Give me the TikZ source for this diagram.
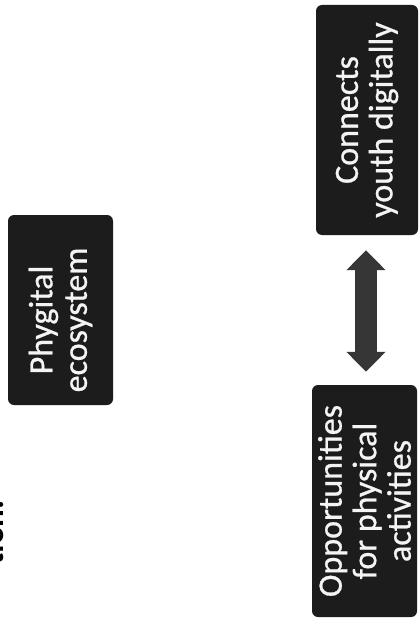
\documentclass[tikz,border=0pt]{standalone}
\usepackage{fontspec}
\setmainfont{Carlito}
\newfontfamily\cardfont[FakeBold=0.8]{Carlito}
\usetikzlibrary{arrows.meta}
\definecolor{boxfill}{HTML}{1C1C1C}
\definecolor{boxtext}{HTML}{F4F4F4}
\definecolor{arrfill}{HTML}{363636}
\begin{document}
\begin{tikzpicture}[x=1pt,y=-1pt,
  card/.style={rotate=90, fill=boxfill, text=boxtext, rounded corners=6pt,
    inner sep=0pt, align=center, font=\cardfont\fontsize{34}{34.5}\selectfont},
  fatarrow/.style={draw=arrfill, line width=22pt,
    {Triangle[length=20pt,width=38pt]}-{Triangle[length=20pt,width=38pt]}},
  heading/.style={rotate=90, inner sep=0pt, text=black,
    font=\bfseries\fontsize{33}{34}\selectfont}]
\fill[white] (0,0) rectangle (419,620);
\useasboundingbox (0,0) rectangle (419,620);
\node[card, minimum width=190pt, minimum height=105pt] (phy) at (60.5,310) {Phygital\hspace*{20pt}\\ecosystem\hspace*{20pt}};
\node[card, minimum width=230pt, minimum height=102pt] (con) at (367,120) {Connects\\youth digitally};
\node[card, minimum width=232pt, minimum height=105pt] (opp) at (364.5,501) {Opportunities\\for physical\\activities};
\coordinate (ax) at (366,0);
\draw[fatarrow, shorten <=15pt, shorten >=13pt] (con.west -| ax) -- (opp.east -| ax);
\node[heading, anchor=base east] (head) at (4,500) {tion:};
\end{tikzpicture}
\end{document}
